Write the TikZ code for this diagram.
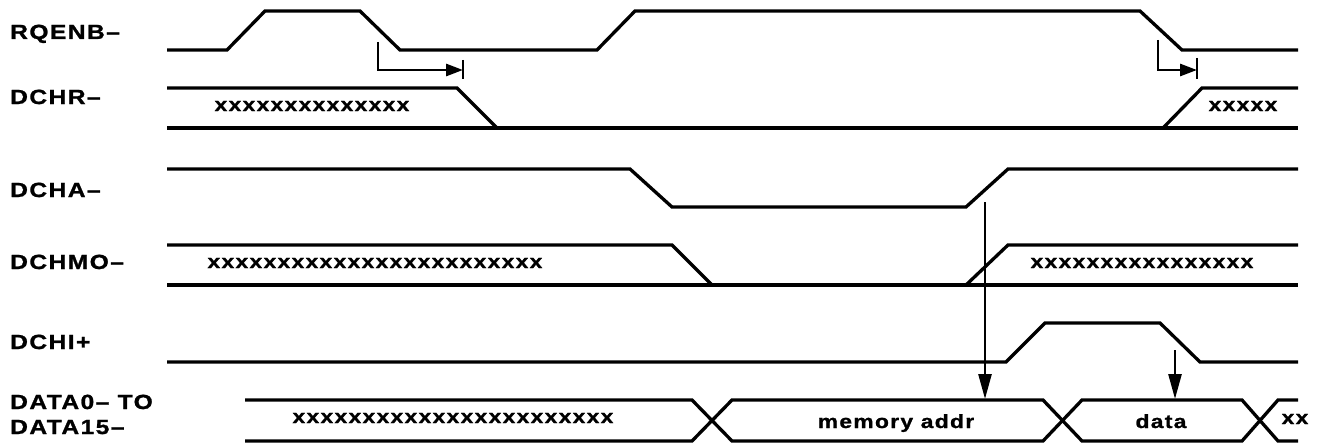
\documentclass[tikz,border=0pt]{standalone}
\usepackage{fontspec}
\setmainfont{Liberation Sans}[FakeStretch=1.2, LetterSpace=7, BoldFeatures={FakeBold=1.2}]
\usetikzlibrary{arrows.meta}
\begin{document}
\begin{tikzpicture}[x=1pt,y=-1pt,
  sig/.style={line width=3.3pt, line join=miter},
  lab/.style={anchor=base west, inner sep=0pt, font=\fontsize{20.5}{22}\selectfont\bfseries},
  xs/.style={inner sep=0pt, font=\fontsize{19}{21}\selectfont\bfseries},
  txt/.style={anchor=base, inner sep=0pt, font=\fontsize{19}{21}\selectfont\bfseries},
  tarr/.style={line width=2.8pt, -{Triangle[length=17pt,width=12pt]}},
  varr/.style={line width=2.6pt, -{Triangle[length=25pt,width=13pt]}},
  bar/.style={line width=2.8pt}]
\useasboundingbox (0,0) rectangle (1323,444);

% labels
\node[lab] (lRQENB) at (10,39) {RQENB–};
\node[lab] (lDCHR) at (10,104) {DCHR–};
\node[lab] (lDCHA) at (10,197) {DCHA–};
\node[lab] (lDCHMO) at (10,269) {DCHMO–};
\node[lab] (lDCHI) at (10,349) {DCHI+};
\node[lab] (lDATA0) at (10,409) {DATA0– TO};
\node[lab] (lDATA15) at (10,434) {DATA15–};

% RQENB-
\draw[sig] (167,50) -- (227,50) -- (265,11) -- (360,11) -- (400,50) -- (597,50) -- (635,11) -- (1140,11) -- (1182,50) -- (1298,50);
% timing arrows
\coordinate (t1a) at (378,42);
\coordinate (t1b) at (378,70);
\coordinate (t1c) at (463,70);
\draw[tarr] (t1a) -- (t1b) -- (t1c);
\draw[bar] (463,60) -- (463,79);
\coordinate (t2a) at (1158,40);
\coordinate (t2b) at (1158,70);
\coordinate (t2c) at (1197,70);
\draw[tarr] (t2a) -- (t2b) -- (t2c);
\draw[bar] (1197,58) -- (1197,79);

% DCHR-
\draw[sig] (167,88) -- (457,88) -- (497,128);
\draw[sig] (167,128) -- (1298,128);
\draw[sig] (1163,128) -- (1202,88) -- (1298,88);
\node[xs] (xr1) at (312,106) {xxxxxxxxxxxxxx};
\node[xs] (xr2) at (1243,106) {xxxxx};

% DCHA-
\draw[sig] (167,169) -- (630,169) -- (672,207) -- (966,207) -- (1008,169) -- (1298,169);

% DCHMO-
\draw[sig] (167,245) -- (672,245) -- (712,285);
\draw[sig] (167,285) -- (1298,285);
\draw[sig] (966,285) -- (1008,245) -- (1298,245);
\node[xs] (xm1) at (375,263) {xxxxxxxxxxxxxxxxxxxxxxxx};
\node[xs] (xm2) at (1142,263) {xxxxxxxxxxxxxxxx};

% DCHI+
\draw[sig] (167,362) -- (1006,362) -- (1045,323) -- (1160,323) -- (1200,362) -- (1298,362);

% DATA
\draw[sig] (245,400) -- (692,400) -- (732,441) -- (1043,441) -- (1082,400) -- (1242,400) -- (1278,441) -- (1298,441);
\draw[sig] (245,441) -- (692,441) -- (732,400) -- (1043,400) -- (1082,441) -- (1242,441) -- (1278,400) -- (1298,400);
\node[xs] (xd1) at (453,418) {xxxxxxxxxxxxxxxxxxxxxxx};
\node[txt] (maddr) at (896,428) {memory addr};
\node[txt] (dat) at (1161,428) {data};
\node[xs] (xd2) at (1295,419) {xx};

% vertical arrows
\coordinate (v1a) at (985,202);
\coordinate (v1b) at (985,399);
\draw[varr] (v1a) -- (v1b);
\coordinate (v2a) at (1175,350);
\coordinate (v2b) at (1175,399);
\draw[varr] (v2a) -- (v2b);
\end{tikzpicture}
\end{document}
